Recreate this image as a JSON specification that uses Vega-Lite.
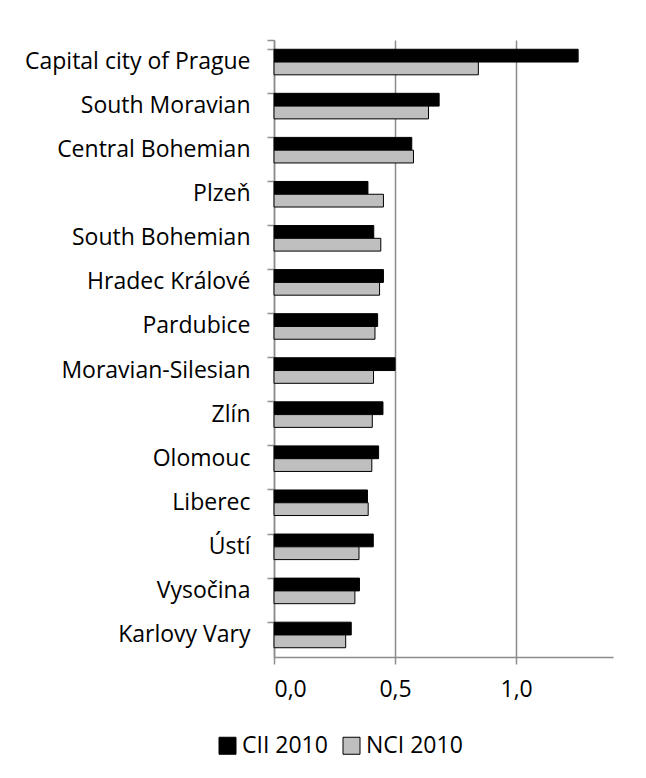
{
  "$schema": "https://vega.github.io/schema/vega-lite/v6.json",
  "autosize": "none",
  "width": 339,
  "height": 617,
  "padding": {"left": 274, "top": 40, "right": 33, "bottom": 121},
  "background": "white",
  "config": {
    "view": {"stroke": null},
    "font": "Open Sans",
    "axis": {"labelFont": "Open Sans", "labelColor": "#000000", "labelFontSize": 23, "domainColor": "#8c8c8c", "tickColor": "#8c8c8c", "gridColor": "#8c8c8c"},
    "legend": {"labelFont": "Open Sans", "labelFontSize": 23, "labelColor": "#000000"}
  },
  "data": {
    "values": [
      {"region": "Capital city of Prague", "series": "CII 2010", "value": 1.256},
      {"region": "Capital city of Prague", "series": "NCI 2010", "value": 0.844},
      {"region": "South Moravian", "series": "CII 2010", "value": 0.682},
      {"region": "South Moravian", "series": "NCI 2010", "value": 0.638},
      {"region": "Central Bohemian", "series": "CII 2010", "value": 0.569},
      {"region": "Central Bohemian", "series": "NCI 2010", "value": 0.576},
      {"region": "Plzeň", "series": "CII 2010", "value": 0.388},
      {"region": "Plzeň", "series": "NCI 2010", "value": 0.452},
      {"region": "South Bohemian", "series": "CII 2010", "value": 0.412},
      {"region": "South Bohemian", "series": "NCI 2010", "value": 0.441},
      {"region": "Hradec Králové", "series": "CII 2010", "value": 0.452},
      {"region": "Hradec Králové", "series": "NCI 2010", "value": 0.436},
      {"region": "Pardubice", "series": "CII 2010", "value": 0.428},
      {"region": "Pardubice", "series": "NCI 2010", "value": 0.417},
      {"region": "Moravian-Silesian", "series": "CII 2010", "value": 0.5},
      {"region": "Moravian-Silesian", "series": "NCI 2010", "value": 0.411},
      {"region": "Zlín", "series": "CII 2010", "value": 0.45},
      {"region": "Zlín", "series": "NCI 2010", "value": 0.406},
      {"region": "Olomouc", "series": "CII 2010", "value": 0.432},
      {"region": "Olomouc", "series": "NCI 2010", "value": 0.404},
      {"region": "Liberec", "series": "CII 2010", "value": 0.386},
      {"region": "Liberec", "series": "NCI 2010", "value": 0.389},
      {"region": "Ústí", "series": "CII 2010", "value": 0.41},
      {"region": "Ústí", "series": "NCI 2010", "value": 0.351},
      {"region": "Vysočina", "series": "CII 2010", "value": 0.353},
      {"region": "Vysočina", "series": "NCI 2010", "value": 0.334},
      {"region": "Karlovy Vary", "series": "CII 2010", "value": 0.319},
      {"region": "Karlovy Vary", "series": "NCI 2010", "value": 0.296}
    ]
  },
  "mark": {"type": "bar", "stroke": "#000000", "strokeWidth": 1},
  "encoding": {
    "y": {
      "field": "region",
      "type": "nominal",
      "sort": null,
      "scale": {"paddingInner": 0.42, "paddingOuter": 0.21},
      "axis": {
        "title": null,
        "bandPosition": 0,
        "tickExtra": true,
        "tickSize": 7,
        "tickWidth": 1.5,
        "domainWidth": 1.5,
        "labelPadding": 17,
        "labelLimit": 300
      }
    },
    "yOffset": {
      "field": "series",
      "type": "nominal",
      "sort": ["CII 2010", "NCI 2010"]
    },
    "x": {
      "field": "value",
      "type": "quantitative",
      "scale": {"domain": [0, 1.4], "nice": false},
      "axis": {
        "title": null,
        "values": [0, 0.5, 1.0],
        "labelExpr": "replace(format(datum.value, '.1f'), '.', ',')",
        "grid": true,
        "gridWidth": 1.5,
        "tickSize": 7,
        "tickWidth": 1.5,
        "domainWidth": 1.5,
        "labelPadding": 14
      }
    },
    "color": {
      "field": "series",
      "type": "nominal",
      "scale": {"domain": ["CII 2010", "NCI 2010"], "range": ["#000000", "#bfbfbf"]},
      "legend": {
        "title": null,
        "orient": "none",
        "direction": "horizontal",
        "legendX": -58,
        "legendY": 694,
        "symbolType": "square",
        "symbolSize": 289,
        "symbolStrokeColor": "#000000",
        "symbolStrokeWidth": 1,
        "symbolOpacity": 1,
        "labelOffset": 3,
        "columnPadding": 12
      }
    }
  }
}
